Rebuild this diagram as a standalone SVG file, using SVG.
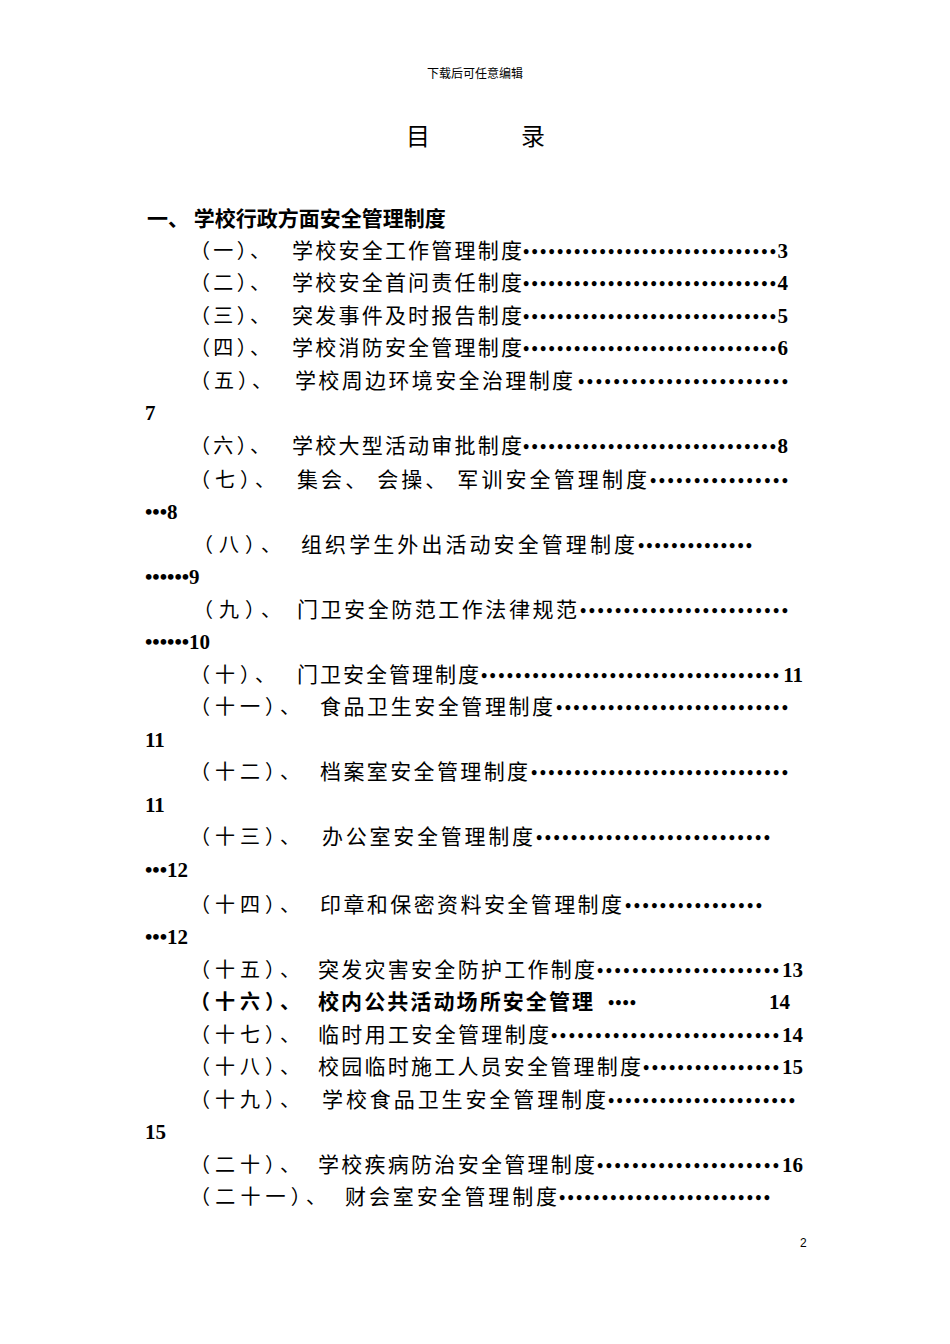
<svg xmlns="http://www.w3.org/2000/svg" width="950" height="1344" viewBox="0 0 950 1344">
<style>
.c{font-family:"Noto Sans CJK SC",sans-serif;font-size:21px;fill:#000}
.p{font-family:"Noto Sans CJK SC",sans-serif;font-size:20px;fill:#000}
.d{font-family:"Liberation Serif",serif;font-size:18px;font-weight:bold;fill:#000}
.n{font-family:"Liberation Serif",serif;font-size:21px;font-weight:bold;fill:#000}
.b{font-weight:bold}
</style>
<rect width="950" height="1344" fill="#fff"/>
<text x="475" y="78" text-anchor="middle" font-family="Noto Sans CJK SC,sans-serif" font-size="12">下载后可任意编辑</text>
<text x="418" y="145" text-anchor="middle" font-family="Noto Sans CJK SC,sans-serif" font-size="24">目</text>
<text x="533" y="145" text-anchor="middle" font-family="Noto Sans CJK SC,sans-serif" font-size="24">录</text>
<text x="147" y="226" class="c b" font-size="22">一、 学校行政方面安全管理制度</text>
<g>
<text x="190" y="258" class="p" textLength="80" lengthAdjust="spacing">（一）、</text><text x="292" y="258" class="c" textLength="230" lengthAdjust="spacing">学校安全工作管理制度</text><text x="523" y="258" class="d" textLength="253" lengthAdjust="spacing">••••••••••••••••••••••••••••••</text><text x="788" y="258" class="n" text-anchor="end">3</text>
<text x="190" y="290" class="p" textLength="80" lengthAdjust="spacing">（二）、</text><text x="292" y="290" class="c" textLength="230" lengthAdjust="spacing">学校安全首问责任制度</text><text x="523" y="290" class="d" textLength="253" lengthAdjust="spacing">••••••••••••••••••••••••••••••</text><text x="788" y="290" class="n" text-anchor="end">4</text>
<text x="190" y="323" class="p" textLength="80" lengthAdjust="spacing">（三）、</text><text x="292" y="323" class="c" textLength="230" lengthAdjust="spacing">突发事件及时报告制度</text><text x="523" y="323" class="d" textLength="253" lengthAdjust="spacing">••••••••••••••••••••••••••••••</text><text x="788" y="323" class="n" text-anchor="end">5</text>
<text x="190" y="355" class="p" textLength="80" lengthAdjust="spacing">（四）、</text><text x="292" y="355" class="c" textLength="230" lengthAdjust="spacing">学校消防安全管理制度</text><text x="523" y="355" class="d" textLength="253" lengthAdjust="spacing">••••••••••••••••••••••••••••••</text><text x="788" y="355" class="n" text-anchor="end">6</text>
<text x="190" y="388" class="p" textLength="82" lengthAdjust="spacing">（五）、</text><text x="295" y="388" class="c" textLength="278" lengthAdjust="spacing">学校周边环境安全治理制度</text><text x="578" y="388" class="d" textLength="210" lengthAdjust="spacing">••••••••••••••••••••••••</text>
<text x="145" y="420" class="n">7</text>
<text x="190" y="453" class="p" textLength="80" lengthAdjust="spacing">（六）、</text><text x="292" y="453" class="c" textLength="230" lengthAdjust="spacing">学校大型活动审批制度</text><text x="523" y="453" class="d" textLength="253" lengthAdjust="spacing">••••••••••••••••••••••••••••••</text><text x="788" y="453" class="n" text-anchor="end">8</text>
<text x="190" y="487" class="p" textLength="85" lengthAdjust="spacing">（七）、</text><text x="297" y="487" class="c" textLength="350" lengthAdjust="spacing">集会、 会操、 军训安全管理制度</text><text x="650" y="487" class="d" textLength="138" lengthAdjust="spacing">••••••••••••••••</text>
<text x="145" y="519" class="n">•••8</text>
<text x="193" y="552" class="p" textLength="88" lengthAdjust="spacing">（八）、</text><text x="301" y="552" class="c" textLength="334" lengthAdjust="spacing">组织学生外出活动安全管理制度</text><text x="638" y="552" class="d" textLength="114" lengthAdjust="spacing">••••••••••••••</text>
<text x="145" y="584" class="n">••••••9</text>
<text x="193" y="617" class="p" textLength="88" lengthAdjust="spacing">（九）、</text><text x="297" y="617" class="c" textLength="280" lengthAdjust="spacing">门卫安全防范工作法律规范</text><text x="580" y="617" class="d" textLength="208" lengthAdjust="spacing">••••••••••••••••••••••••</text>
<text x="145" y="649" class="n">••••••10</text>
<text x="190" y="682" class="p" textLength="85" lengthAdjust="spacing">（十）、</text><text x="297" y="682" class="c" textLength="182" lengthAdjust="spacing">门卫安全管理制度</text><text x="481" y="682" class="d" textLength="298" lengthAdjust="spacing">•••••••••••••••••••••••••••••••••••</text><text x="803" y="682" class="n" text-anchor="end">11</text>
<text x="190" y="714" class="p" textLength="110" lengthAdjust="spacing">（十一）、</text><text x="320" y="714" class="c" textLength="233" lengthAdjust="spacing">食品卫生安全管理制度</text><text x="556" y="714" class="d" textLength="232" lengthAdjust="spacing">•••••••••••••••••••••••••••</text>
<text x="145" y="747" class="n">11</text>
<text x="190" y="779" class="p" textLength="110" lengthAdjust="spacing">（十二）、</text><text x="320" y="779" class="c" textLength="208" lengthAdjust="spacing">档案室安全管理制度</text><text x="531" y="779" class="d" textLength="257" lengthAdjust="spacing">••••••••••••••••••••••••••••••</text>
<text x="145" y="812" class="n">11</text>
<text x="190" y="844" class="p" textLength="110" lengthAdjust="spacing">（十三）、</text><text x="322" y="844" class="c" textLength="211" lengthAdjust="spacing">办公室安全管理制度</text><text x="536" y="844" class="d" textLength="234" lengthAdjust="spacing">•••••••••••••••••••••••••••</text>
<text x="145" y="877" class="n">•••12</text>
<text x="190" y="912" class="p" textLength="110" lengthAdjust="spacing">（十四）、</text><text x="320" y="912" class="c" textLength="302" lengthAdjust="spacing">印章和保密资料安全管理制度</text><text x="625" y="912" class="d" textLength="137" lengthAdjust="spacing">••••••••••••••••</text>
<text x="145" y="944" class="n">•••12</text>
<text x="190" y="977" class="p" textLength="110" lengthAdjust="spacing">（十五）、</text><text x="318" y="977" class="c" textLength="277" lengthAdjust="spacing">突发灾害安全防护工作制度</text><text x="597" y="977" class="d" textLength="182" lengthAdjust="spacing">•••••••••••••••••••••</text><text x="803" y="977" class="n" text-anchor="end">13</text>
<text x="190" y="1009" class="p b" textLength="110" lengthAdjust="spacing">（十六）、</text><text x="318" y="1009" class="c b" textLength="275" lengthAdjust="spacing">校内公共活动场所安全管理</text><text x="608" y="1009" class="d" textLength="28" lengthAdjust="spacing">••••</text><text x="790" y="1009" class="n" text-anchor="end" font-weight="normal">14</text>
<text x="190" y="1042" class="p" textLength="110" lengthAdjust="spacing">（十七）、</text><text x="318" y="1042" class="c" textLength="231" lengthAdjust="spacing">临时用工安全管理制度</text><text x="551" y="1042" class="d" textLength="228" lengthAdjust="spacing">••••••••••••••••••••••••••</text><text x="803" y="1042" class="n" text-anchor="end">14</text>
<text x="190" y="1074" class="p" textLength="110" lengthAdjust="spacing">（十八）、</text><text x="318" y="1074" class="c" textLength="323" lengthAdjust="spacing">校园临时施工人员安全管理制度</text><text x="643" y="1074" class="d" textLength="136" lengthAdjust="spacing">••••••••••••••••</text><text x="803" y="1074" class="n" text-anchor="end">15</text>
<text x="190" y="1107" class="p" textLength="110" lengthAdjust="spacing">（十九）、</text><text x="322" y="1107" class="c" textLength="284" lengthAdjust="spacing">学校食品卫生安全管理制度</text><text x="608" y="1107" class="d" textLength="187" lengthAdjust="spacing">••••••••••••••••••••••</text>
<text x="145" y="1139" class="n">15</text>
<text x="190" y="1172" class="p" textLength="110" lengthAdjust="spacing">（二十）、</text><text x="318" y="1172" class="c" textLength="277" lengthAdjust="spacing">学校疾病防治安全管理制度</text><text x="597" y="1172" class="d" textLength="182" lengthAdjust="spacing">•••••••••••••••••••••</text><text x="803" y="1172" class="n" text-anchor="end">16</text>
<text x="190" y="1204" class="p" textLength="136" lengthAdjust="spacing">（二十一）、</text><text x="345" y="1204" class="c" textLength="212" lengthAdjust="spacing">财会室安全管理制度</text><text x="559" y="1204" class="d" textLength="211" lengthAdjust="spacing">•••••••••••••••••••••••••</text>
</g>
<text x="800" y="1247" font-family="Liberation Sans,sans-serif" font-size="12">2</text>
</svg>
